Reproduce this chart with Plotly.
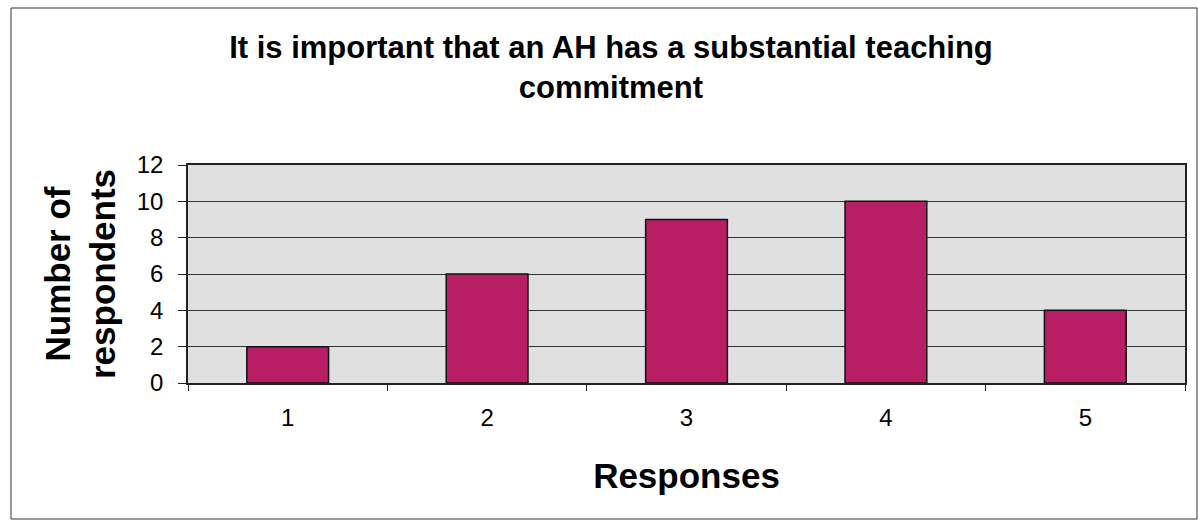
import plotly.graph_objects as go

# Survey responses (Likert scale 1-5) and number of respondents choosing each
responses = ["1", "2", "3", "4", "5"]
respondents = [2, 6, 9, 10, 4]
y_ticks = [0, 2, 4, 6, 8, 10, 12]

title_text = "It is important that an AH has a substantial teaching<br>commitment"
x_title = "Responses"
y_title = "Number of<br>respondents"

FONT = "Arial, 'Liberation Sans', sans-serif"
BAR_COLOR = "#B81E64"
PLOT_BG = "#E0E0E0"

W, H = 1198, 523
M_L, M_R, M_T, M_B = 188, 13, 165, 140
plot_w = W - M_L - M_R
plot_h = H - M_T - M_B

fig = go.Figure(
    go.Bar(
        x=responses,
        y=respondents,
        width=0.41,
        marker=dict(color=BAR_COLOR, line=dict(color="#111111", width=1.5)),
        hoverinfo="x+y",
    )
)

# Outer chart frame drawn in paper coordinates
frame_x0 = (11 - M_L) / plot_w
frame_x1 = (1197 - M_L) / plot_w
frame_y1 = (H - M_B - 8) / plot_h
frame_y0 = (H - M_B - 519) / plot_h

fig.add_shape(
    type="rect", xref="paper", yref="paper",
    x0=frame_x0, x1=frame_x1, y0=frame_y0, y1=frame_y1,
    line=dict(color="#333333", width=1), layer="below",
)

fig.update_layout(
    width=W, height=H,
    margin=dict(l=M_L, r=M_R, t=M_T, b=M_B),
    paper_bgcolor="white",
    plot_bgcolor=PLOT_BG,
    showlegend=False,
    font=dict(family=FONT, color="black"),
    title=dict(
        text=title_text,
        x=0.51, xanchor="center",
        y=1 - 58 / H, yanchor="middle",
        font=dict(family=FONT, size=31, color="black", weight="bold"),
    ),
    bargap=0.59,
)

fig.update_xaxes(
    type="category",
    tickson="boundaries",
    ticks="outside", ticklen=6, tickcolor="#222222", tickwidth=1,
    ticklabelstandoff=12,
    showline=True, linecolor="#222222", linewidth=1.5, mirror=True,
    showgrid=False,
    tickfont=dict(family=FONT, size=24, color="black"),
    title=dict(text=x_title, standoff=34,
               font=dict(family=FONT, size=35, color="black", weight="bold")),
)

fig.update_yaxes(
    range=[0, 12],
    tickvals=y_ticks,
    ticks="outside", ticklen=8, tickcolor="#222222", tickwidth=1,
    ticklabelstandoff=10,
    showline=True, linecolor="#222222", linewidth=1.5, mirror=True,
    showgrid=True, gridcolor="#333333", gridwidth=1,
    zeroline=False,
    tickfont=dict(family=FONT, size=24, color="black"),
    title=dict(text=y_title, standoff=10,
               font=dict(family=FONT, size=35, color="black", weight="bold")),
)

fig.write_html("out.html")
